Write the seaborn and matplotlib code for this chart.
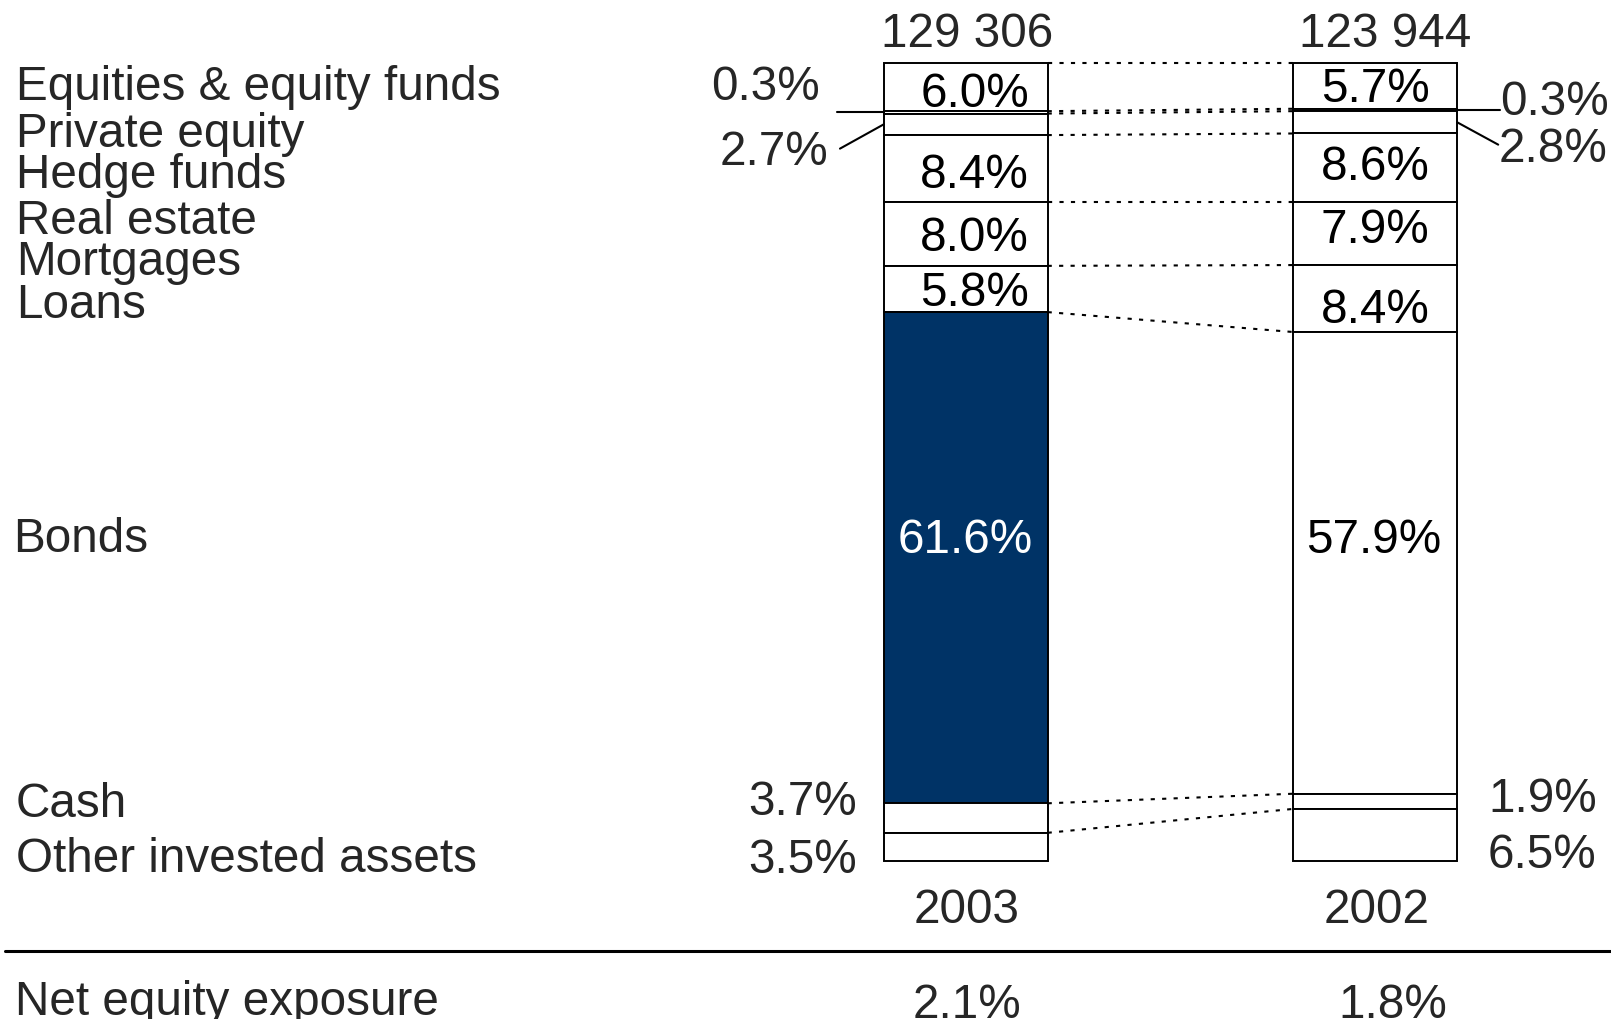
import numpy as np
import pandas as pd
import matplotlib.pyplot as plt
import matplotlib.transforms as mtransforms
from matplotlib.lines import Line2D
import seaborn as sns

# data
years = ["2003", "2002"]
categories = ["Equities & equity funds", "Private equity", "Hedge funds",
              "Real estate", "Mortgages", "Loans", "Bonds", "Cash",
              "Other invested assets"]
share_2003 = [6.0, 0.3, 2.7, 8.4, 8.0, 5.8, 61.6, 3.7, 3.5]
share_2002 = [5.7, 0.3, 2.8, 8.6, 7.9, 8.4, 57.9, 1.9, 6.5]
totals = ["129 306", "123 944"]
net_equity = ["2.1%", "1.8%"]
highlight = ("Bonds", "2003")

sns.set_theme(style="white")
plt.rcParams["font.family"] = ["Liberation Sans", "DejaVu Sans"]

W, H = 1611, 1019
FS = 34.3
NAVY = "#003366"
HALF = 0.2
PX = 7.974  # pixels per percentage point

fig = plt.figure(figsize=(W / 100, H / 100), dpi=100)
ax = fig.add_axes([0, 0, 1, 1])
# x in data units, y in figure fraction (for text rows)
xfig = mtransforms.blended_transform_factory(ax.transData, fig.transFigure)


def fy(py):
    # pixel row (from top) -> figure fraction
    return 1 - py / H


shares = np.array([share_2003, share_2002])
tops = 100 - np.cumsum(shares, axis=1) + shares
bottoms = tops - shares

# stacked bars, one layer per category
for i, cat in enumerate(categories):
    layer = pd.DataFrame({"year": years, "share": shares[:, i]})
    sns.barplot(data=layer, x="year", y="share", order=years,
                bottom=bottoms[:, i], color="white", edgecolor="black",
                linewidth=1.4, width=2 * HALF, errorbar=None, ax=ax)
    if cat == highlight[0]:
        ax.containers[-1][years.index(highlight[1])].set_facecolor(NAVY)

# dotted connectors between segment boundaries
for i in range(len(categories)):
    ax.plot([0 + HALF, 1 - HALF], tops[:, i], color="black", lw=1.5,
            ls=(0, (2, 3.5)), zorder=1)

# labels inside the bars (small nudges in pixels, + = up)
inside = ["Equities & equity funds", "Real estate", "Mortgages", "Loans"]
nudge = {"2003": [-2, -2, 0, 0], "2002": [2, 5, 8.5, -6.5]}
x_nudge = [0.022, 0.0]
for j in range(len(years)):
    for k, cat in enumerate(inside):
        i = categories.index(cat)
        mid = bottoms[j, i] + shares[j, i] / 2 + nudge[years[j]][k] / PX
        ax.text(j + x_nudge[j], mid, f"{shares[j, i]:.1f}%", ha="center",
                va="center_baseline", fontsize=FS, color="black")
    i = categories.index("Bonds")
    col = "white" if years[j] == highlight[1] else "black"
    ax.text(j - 0.005 * j, fy(553), f"{shares[j, i]:.1f}%", ha="center",
            va="baseline", fontsize=FS, color=col, transform=xfig)

# small segments labelled outside
ipe = categories.index("Private equity")
ihf = categories.index("Hedge funds")
ica = categories.index("Cash")
iot = categories.index("Other invested assets")

# 2003, left side
ax.text(-0.356, fy(100), f"{shares[0, ipe]:.1f}%", ha="right", va="baseline",
        fontsize=FS, transform=xfig)
ax.text(-0.336, fy(165), f"{shares[0, ihf]:.1f}%", ha="right", va="baseline",
        fontsize=FS, transform=xfig)
ax.text(-0.265, fy(815), f"{shares[0, ica]:.1f}%", ha="right", va="baseline",
        fontsize=FS, transform=xfig)
ax.text(-0.265, fy(873), f"{shares[0, iot]:.1f}%", ha="right", va="baseline",
        fontsize=FS, transform=xfig)
pe_mid = bottoms[:, ipe] + shares[:, ipe] / 2
hf_mid = bottoms[:, ihf] + shares[:, ihf] / 2
ax.plot([-0.314, -HALF], [pe_mid[0], pe_mid[0]], color="black", lw=1.5)
ax.plot([-0.307, -HALF], [89.3, hf_mid[0]], color="black", lw=1.5)

# 2002, right side
ax.text(1.304, fy(115), f"{shares[1, ipe]:.1f}%", ha="left", va="baseline",
        fontsize=FS, transform=xfig)
ax.text(1.300, fy(161.7), f"{shares[1, ihf]:.1f}%", ha="left", va="baseline",
        fontsize=FS, transform=xfig)
ax.text(1.275, fy(811.7), f"{shares[1, ica]:.1f}%", ha="left", va="baseline",
        fontsize=FS, transform=xfig)
ax.text(1.275, fy(868), f"{shares[1, iot]:.1f}%", ha="left", va="baseline",
        fontsize=FS, transform=xfig)
ax.plot([1 + HALF, 1.304], [pe_mid[1], pe_mid[1]], color="black", lw=1.5)
ax.plot([1 + HALF, 1.300], [hf_mid[1], 89.8], color="black", lw=1.5)

# totals, years and net equity exposure
tot_dx = [0.004, 0.025]
yr_dx = [0.003, 0.004]
net_dx = [0.003, 0.042]
for j in range(len(years)):
    ax.text(j + tot_dx[j], fy(46.7), totals[j], ha="center", va="baseline",
            fontsize=FS, transform=xfig)
    ax.text(j + yr_dx[j], fy(922.7), years[j], ha="center", va="baseline",
            fontsize=FS, transform=xfig)
    ax.text(j + net_dx[j], fy(1018), net_equity[j], ha="center",
            va="baseline", fontsize=FS, transform=xfig)

# category names on the left
row_base = [100, 146.7, 188, 234, 275, 318, 551.7, 816.7, 871.7]
for cat, py in zip(categories, row_base):
    px = 13 if cat == "Bonds" else 16
    fig.text(px / W, fy(py), cat, ha="left", va="baseline", fontsize=FS)
fig.text(15 / W, fy(1015), "Net equity exposure", ha="left", va="baseline",
         fontsize=FS)

fig.add_artist(Line2D([5 / W, 1], [fy(951), fy(951)], color="black", lw=2.2,
                      transform=fig.transFigure))

ax.set_xlim(-2.3577, 1.5754)
ax.set_ylim(-19.85, 107.94)
ax.axis("off")

fig.savefig("out.png", dpi=100)
